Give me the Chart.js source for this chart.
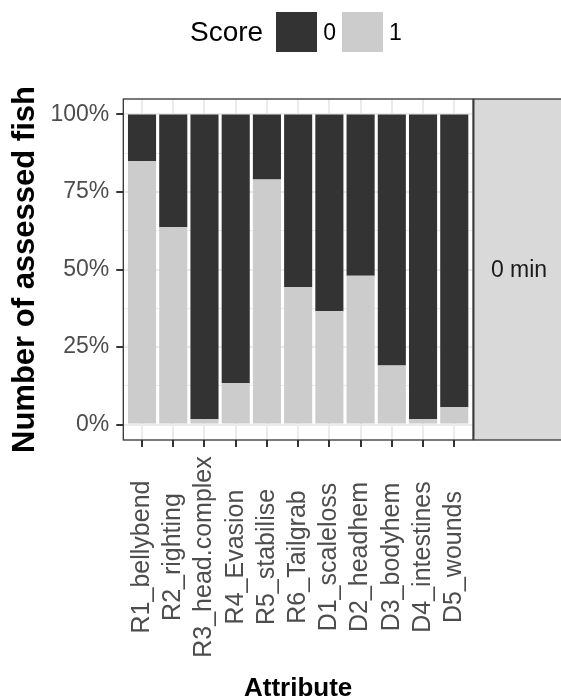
<!DOCTYPE html>
<html lang="en">

<head>
    <meta charset="UTF-8">
    <title>Attribute scores</title>
    <script src="https://cdn.jsdelivr.net/npm/chart.js"></script>
    <style>
        body {
            margin: 0;
            font-family: 'Liberation Sans', Arial, sans-serif;
            background: #fff;
        }

        #wrap {
            position: relative;
            width: 561px;
            height: 698px;
        }

        #legend {
            position: absolute;
            top: 12px;
            left: 190px;
            height: 40px;
            display: flex;
            align-items: center;
            color: #000;
        }

        #legend .title {
            font-size: 28px;
            margin-right: 13px;
        }

        #legend .key {
            width: 41px;
            height: 40px;
        }

        #legend .lab {
            font-size: 23px;
            margin: 0 6px 0 6px;
        }
    </style>
</head>

<body>
    <div id="wrap">
        <canvas id="myChart" width="561" height="698"></canvas>
        <div id="legend"></div>
    </div>

    <script>
// attributes on the x axis
const attributes = ['R1_bellybend', 'R2_righting', 'R3_head.complex', 'R4_Evasion', 'R5_stabilise',
    'R6_Tailgrab', 'D1_scaleloss', 'D2_headhem', 'D3_bodyhem', 'D4_intestines', 'D5_wounds'];

// share of assessed fish (%) per score
const scoreOne = [84.9, 63.6, 1.7, 13.3, 79.0, 44.3, 36.5, 48.0, 19.0, 1.7, 5.6];
const scoreZero = [15.1, 36.4, 98.3, 86.7, 21.0, 55.7, 63.5, 52.0, 81.0, 98.3, 94.4];

const yTicks = [0, 25, 50, 75, 100];
const yTickLabels = ['0%', '25%', '50%', '75%', '100%'];
const yMinor = [12.5, 37.5, 62.5, 87.5];

const facetLabel = '0 min';
const legendTitle = 'Score';
const dark = '#333333';
const light = '#CCCCCC';

// legend (ggplot style: title on the left)
const legend = document.getElementById('legend');
legend.innerHTML = '<span class="title">' + legendTitle + '</span>' +
    '<span class="key" style="background:' + dark + '"></span><span class="lab">0</span>' +
    '<span class="key" style="background:' + light + '"></span><span class="lab">1</span>';

const isMajor = v => yTicks.includes(v);

// center the rotated x labels like ggplot does
const centerXLabels = {
    id: 'centerXLabels',
    beforeDraw(chart) {
        const items = chart.scales.x.getLabelItems(chart.chartArea);
        items.forEach(it => {
            it.options.textAlign = 'center';
            it.options.translation = [it.options.translation[0], 557];
        });
    }
};

// panel border and facet strip
const panelAndStrip = {
    id: 'panelAndStrip',
    afterDraw(chart) {
        const { ctx, chartArea: a } = chart;
        ctx.save();
        ctx.fillStyle = '#D9D9D9';
        ctx.fillRect(a.right, a.top, 95, a.bottom - a.top);
        ctx.strokeStyle = '#333333';
        ctx.lineWidth = 1.3;
        ctx.strokeRect(a.left, a.top, a.right - a.left, a.bottom - a.top);
        ctx.strokeRect(a.right + 0.8, a.top, 95, a.bottom - a.top);
        ctx.fillStyle = '#1A1A1A';
        ctx.font = "23px 'Liberation Sans', Arial, sans-serif";
        ctx.textAlign = 'center';
        ctx.textBaseline = 'middle';
        ctx.fillText(facetLabel, a.right + 46, (a.top + a.bottom) / 2 + 1);
        ctx.restore();
    }
};

Chart.defaults.font.family = "'Liberation Sans', Arial, sans-serif";

const ctx = document.getElementById('myChart').getContext('2d');
const chart = new Chart(ctx, {
    type: 'bar',
    data: {
        datasets: [{
            label: '1',
            data: scoreOne.map((v, i) => ({ x: i, y: v })),
            backgroundColor: light
        },
        {
            label: '0',
            data: scoreZero.map((v, i) => ({ x: i, y: v })),
            backgroundColor: dark
        }]
    },
    options: {
        responsive: false,
        animation: false,
        devicePixelRatio: 1,
        layout: {
            padding: { top: 99, right: 88, left: 0, bottom: 0 }
        },
        barPercentage: 0.9,
        categoryPercentage: 1,
        plugins: {
            legend: { display: false },
            tooltip: { enabled: false }
        },
        scales: {
            x: {
                type: 'linear',
                stacked: true,
                offset: false,
                min: -0.6,
                max: 10.6,
                bounds: 'data',
                afterBuildTicks: axis => {
                    axis.ticks = attributes.map((a, i) => ({ value: i }));
                },
                afterFit: axis => {
                    axis.height = 258;
                },
                ticks: {
                    autoSkip: false,
                    minRotation: 90,
                    maxRotation: 90,
                    padding: 5,
                    color: '#4D4D4D',
                    font: { size: 25 },
                    callback: v => attributes[v]
                },
                grid: {
                    offset: false,
                    color: '#EBEBEB',
                    lineWidth: 2,
                    tickColor: '#333333',
                    tickWidth: 2,
                    tickLength: 7
                },
                border: { display: false },
                title: {
                    display: true,
                    text: 'Attribute',
                    color: '#000',
                    font: { size: 26, weight: 'bold', lineHeight: 1 },
                    padding: { top: 0, bottom: -3.5 }
                }
            },
            y: {
                stacked: true,
                min: -5,
                max: 105,
                bounds: 'data',
                afterBuildTicks: axis => {
                    axis.ticks = yTicks.concat(yMinor).sort((a, b) => a - b).map(v => ({ value: v }));
                },
                afterFit: axis => {
                    axis.width = 123.3;
                },
                ticks: {
                    padding: 7,
                    color: '#4D4D4D',
                    font: { size: 23 },
                    callback: v => isMajor(v) ? yTickLabels[yTicks.indexOf(v)] : ''
                },
                grid: {
                    color: '#EBEBEB',
                    lineWidth: c => isMajor(c.tick.value) ? 2 : 1,
                    tickColor: c => isMajor(c.tick.value) ? '#333333' : 'rgba(0,0,0,0)',
                    tickWidth: 2,
                    tickLength: 7
                },
                border: { display: false },
                title: {
                    display: true,
                    text: 'Number of assessed fish',
                    color: '#000',
                    font: { size: 31, weight: 'bold' },
                    padding: { top: 7, bottom: 0 }
                }
            }
        }
    },
    plugins: [centerXLabels, panelAndStrip]
});
    </script>
</body>

</html>
